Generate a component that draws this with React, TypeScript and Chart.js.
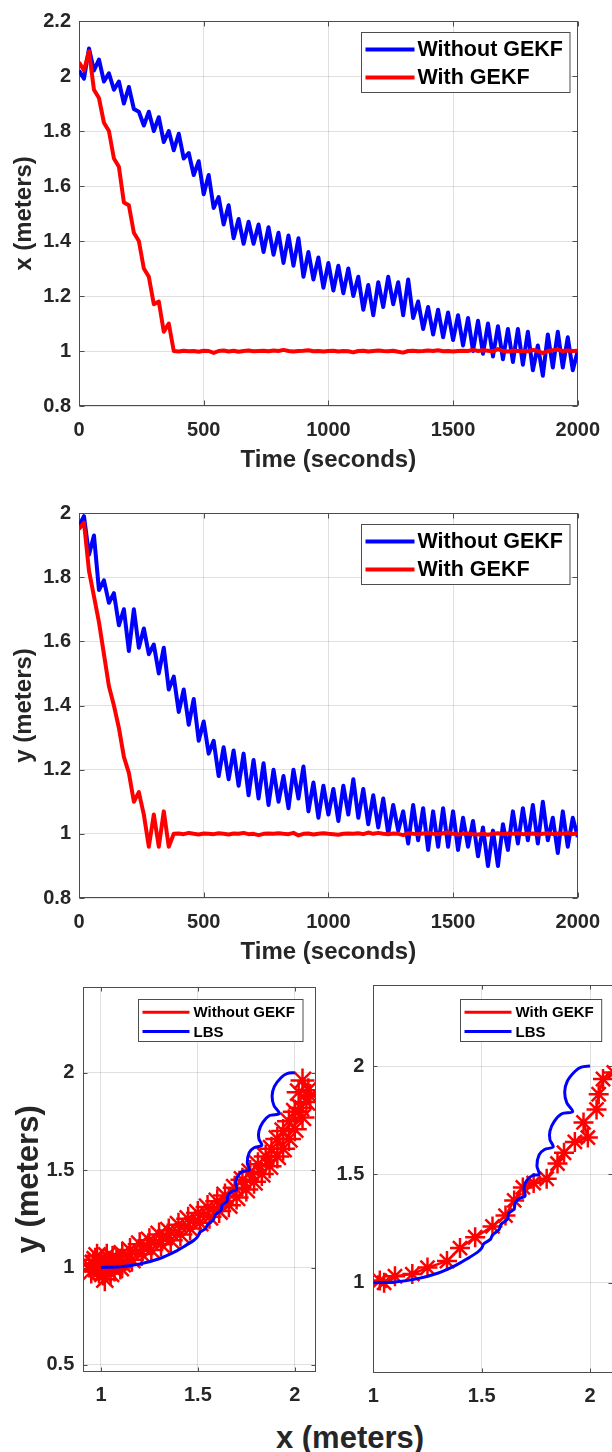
import React, { useEffect, useRef } from "react";
import { Chart, registerables } from "chart.js";

Chart.register(...registerables);

const FONT = "'Liberation Sans', Arial, Helvetica, sans-serif";
const TEXT = "#262626";
const AXIS = "#4d4d4d";
const GRID = "rgba(38,38,38,0.14)";
const BLUE = "#0000ff";
const RED = "#ff0000";

// ---------- time series (seconds) ----------
const timeSec = [
  0, 20, 40, 60, 80, 100, 120, 140, 160, 180,
  200, 220, 240, 260, 280, 300, 320, 340, 360, 380,
  400, 420, 440, 460, 480, 500, 520, 540, 560, 580,
  600, 620, 640, 660, 680, 700, 720, 740, 760, 780,
  800, 820, 840, 860, 880, 900, 920, 940, 960, 980,
  1000, 1020, 1040, 1060, 1080, 1100, 1120, 1140, 1160, 1180,
  1200, 1220, 1240, 1260, 1280, 1300, 1320, 1340, 1360, 1380,
  1400, 1420, 1440, 1460, 1480, 1500, 1520, 1540, 1560, 1580,
  1600, 1620, 1640, 1660, 1680, 1700, 1720, 1740, 1760, 1780,
  1800, 1820, 1840, 1860, 1880, 1900, 1920, 1940, 1960, 1980,
  2000,
];

// x (meters) without GEKF
const xWithout = [
  2.02, 1.99, 2.10, 2.02, 2.06, 1.98, 2.01, 1.95, 1.98, 1.90,
  1.96, 1.88, 1.87, 1.82, 1.87, 1.80, 1.85, 1.76, 1.80, 1.73,
  1.79, 1.70, 1.72, 1.64, 1.69, 1.57, 1.64, 1.52, 1.56, 1.46,
  1.53, 1.41, 1.48, 1.39, 1.47, 1.39, 1.46, 1.36, 1.45, 1.35,
  1.43, 1.32, 1.42, 1.31, 1.41, 1.27, 1.36, 1.26, 1.34, 1.23,
  1.32, 1.22, 1.31, 1.21, 1.30, 1.20, 1.27, 1.15, 1.24, 1.13,
  1.25, 1.16, 1.27, 1.17, 1.25, 1.13, 1.26, 1.12, 1.18, 1.08,
  1.16, 1.06, 1.15, 1.05, 1.14, 1.04, 1.13, 1.02, 1.12, 1.00,
  1.11, 0.99, 1.10, 0.98, 1.09, 0.97, 1.08, 0.96, 1.08, 0.95,
  1.07, 0.93, 1.02, 0.91, 1.06, 0.94, 1.07, 0.94, 1.05, 0.93,
  1.00,
];

// x (meters) with GEKF
const xWith = [
  2.05, 2.02, 2.09, 1.95, 1.92, 1.83, 1.80, 1.70, 1.67, 1.54,
  1.53, 1.43, 1.40, 1.30, 1.27, 1.17, 1.18, 1.07, 1.10, 1.00,
  0.998, 1.001, 0.999, 1.000, 0.997, 1.001, 1.000, 0.993, 1.000, 1.002,
  0.998, 1.001, 0.997, 1.000, 1.002, 0.999, 1.000, 1.001, 0.999, 1.002,
  1.000, 1.004, 1.000, 0.998, 1.000, 1.001, 1.003, 0.999, 1.000, 0.998,
  1.000, 1.001, 0.998, 1.000, 0.999, 0.995, 1.000, 1.001, 0.998, 1.000,
  1.002, 1.000, 0.999, 1.001, 0.997, 0.994, 1.000, 1.001, 0.999, 1.000,
  1.002, 1.000, 1.003, 0.999, 1.000, 0.998, 1.000, 1.001, 1.000, 1.004,
  1.000, 1.003, 1.001, 0.998, 1.007, 1.000, 0.998, 1.002, 1.000, 1.001,
  0.999, 1.004, 1.000, 0.992, 1.000, 1.003, 1.005, 1.000, 1.002, 1.000,
  1.001,
];

// y (meters) without GEKF
const yWithout = [
  1.96, 1.99, 1.87, 1.93, 1.76, 1.79, 1.72, 1.75, 1.65, 1.70,
  1.57, 1.70, 1.58, 1.64, 1.56, 1.59, 1.50, 1.58, 1.45, 1.49,
  1.38, 1.45, 1.34, 1.42, 1.29, 1.35, 1.25, 1.29, 1.18, 1.27,
  1.17, 1.26, 1.15, 1.25, 1.12, 1.23, 1.11, 1.22, 1.09, 1.20,
  1.10, 1.18, 1.08, 1.20, 1.11, 1.21, 1.07, 1.16, 1.05, 1.15,
  1.06, 1.14, 1.04, 1.15, 1.06, 1.17, 1.05, 1.14, 1.03, 1.12,
  1.02, 1.11, 1.00, 1.09, 1.01, 1.07, 0.97, 1.09, 0.98, 1.08,
  0.95, 1.07, 0.96, 1.08, 0.96, 1.07, 0.95, 1.05, 0.96, 1.04,
  0.93, 1.02, 0.90, 1.01, 0.90, 1.03, 0.95, 1.07, 0.97, 1.08,
  0.98, 1.09, 0.97, 1.10, 0.98, 1.05, 0.94, 1.07, 0.96, 1.05,
  0.99,
];

// y (meters) with GEKF
const yWith = [
  1.95, 1.97, 1.82, 1.74, 1.66, 1.56, 1.46, 1.40, 1.33, 1.24,
  1.19, 1.10, 1.13, 1.06, 0.96, 1.06, 0.96, 1.07, 0.96, 1.00,
  1.001, 0.999, 1.003, 1.000, 0.998, 1.001, 1.000, 0.999, 1.002, 1.000,
  0.998, 1.001, 1.000, 1.003, 0.999, 1.000, 0.996, 1.000, 1.001, 1.000,
  1.002, 1.000, 0.999, 1.003, 0.995, 1.000, 1.001, 0.998, 1.000, 1.002,
  1.000, 0.999, 0.997, 1.000, 1.001, 1.000, 1.002, 0.999, 1.004, 1.000,
  1.003, 1.000, 0.999, 1.001, 1.000, 0.996, 1.002, 1.000, 0.999, 1.001,
  1.003, 1.000, 0.999, 1.002, 1.005, 1.000, 0.998, 1.000, 1.001, 0.999,
  0.998, 1.000, 0.997, 1.000, 1.002, 0.999, 1.001, 1.000, 1.002, 0.999,
  1.000, 1.001, 0.998, 1.000, 1.002, 0.999, 1.001, 1.000, 1.003, 0.999,
  1.002,
];

// ---------- trajectories (meters) ----------
const lbsX = [
  1.00, 1.10, 1.20, 1.30, 1.38, 1.44, 1.48, 1.50, 1.51, 1.54,
  1.55, 1.58, 1.59, 1.62, 1.625, 1.65, 1.655, 1.675, 1.70,
  1.695, 1.71, 1.735, 1.765,
  1.755, 1.765, 1.79, 1.83,
  1.815, 1.815, 1.835, 1.87, 1.92,
  1.893, 1.883, 1.895, 1.93, 1.96, 2.00,
];
const lbsY = [
  1.00, 1.004, 1.018, 1.045, 1.08, 1.115, 1.14, 1.16, 1.18, 1.20,
  1.22, 1.245, 1.27, 1.295, 1.32, 1.34, 1.37, 1.39, 1.40,
  1.44, 1.475, 1.495, 1.50,
  1.54, 1.59, 1.615, 1.627,
  1.66, 1.70, 1.745, 1.78, 1.79,
  1.83, 1.88, 1.93, 1.975, 1.995, 2.00,
];

const trajWithoutX = [
  2.04, 2.07, 2.02, 2.06, 2.03, 2.08, 2.00, 2.04,
  1.97, 2.00, 1.94, 1.97, 1.91, 1.94, 1.88, 1.91, 1.85, 1.87,
  1.81, 1.83, 1.77, 1.79, 1.73, 1.75, 1.69, 1.70, 1.64, 1.66,
  1.60, 1.61, 1.55, 1.56, 1.50, 1.51, 1.45, 1.46, 1.40, 1.41,
  1.35, 1.36, 1.30, 1.31, 1.25, 1.26, 1.20, 1.21, 1.15, 1.16,
  1.11, 1.11,
  1.08, 1.03, 0.97, 0.94, 0.99, 1.05, 1.10, 1.06, 1.00, 0.95,
  1.02, 1.07, 0.98, 1.04, 0.96, 1.01, 1.09, 1.03,
];
const trajWithoutY = [
  1.96, 1.91, 1.90, 1.85, 1.82, 1.88, 1.80, 1.77,
  1.75, 1.71, 1.70, 1.66, 1.66, 1.61, 1.61, 1.57, 1.57, 1.52,
  1.53, 1.48, 1.49, 1.44, 1.45, 1.40, 1.41, 1.36, 1.37, 1.32,
  1.34, 1.29, 1.31, 1.26, 1.28, 1.23, 1.25, 1.20, 1.22, 1.17,
  1.19, 1.14, 1.17, 1.12, 1.14, 1.09, 1.12, 1.07, 1.09, 1.04,
  1.07, 1.02,
  1.04, 1.06, 1.04, 1.01, 0.98, 0.97, 1.00, 1.05, 1.02, 0.98,
  0.94, 0.99, 1.06, 1.01, 1.02, 0.97, 1.03, 0.99,
];

const trajWithX = [
  2.11, 2.06, 2.04, 2.03, 1.97, 1.99, 1.93, 1.88, 1.85, 1.80,
  1.74, 1.69, 1.65, 1.61, 1.55, 1.47, 1.40, 1.34, 1.25, 1.18,
  1.10, 1.05, 1.03,
];
const trajWithY = [
  1.97, 1.94, 1.87, 1.80, 1.74, 1.67, 1.65, 1.60, 1.55, 1.48,
  1.46, 1.44, 1.38, 1.31, 1.26, 1.21, 1.16, 1.10, 1.07, 1.04,
  1.03, 1.00, 1.01,
];

// ---------- ticks ----------
const timeTicks = [0, 500, 1000, 1500, 2000];
const xPosTicks = [0.8, 1, 1.2, 1.4, 1.6, 1.8, 2, 2.2];
const yPosTicks = [0.8, 1, 1.2, 1.4, 1.6, 1.8, 2];
const trajXTicks = [1, 1.5, 2];
const trajYTicksLeft = [0.5, 1, 1.5, 2];
const trajYTicksRight = [1, 1.5, 2];

const fmt = (v: any) => String(Math.round(Number(v) * 100) / 100);

const framePlugin = {
  id: "matlabFrame",
  beforeDatasetsDraw(chart: any, _a: any, opts: any) {
    const { ctx, chartArea: ca, scales } = chart;
    const tl = opts.tickLen || 5;
    ctx.save();
    ctx.strokeStyle = AXIS;
    ctx.lineWidth = 1;
    const L = Math.round(ca.left) + 0.5;
    const R = Math.round(ca.right) - 0.5;
    const T = Math.round(ca.top) + 0.5;
    const B = Math.round(ca.bottom) - 0.5;
    ctx.beginPath();
    scales.x.ticks.forEach((t: any) => {
      const p = Math.round(scales.x.getPixelForValue(t.value)) + 0.5;
      ctx.moveTo(p, B);
      ctx.lineTo(p, B - tl);
      ctx.moveTo(p, T);
      ctx.lineTo(p, T + tl);
    });
    scales.y.ticks.forEach((t: any) => {
      const p = Math.round(scales.y.getPixelForValue(t.value)) + 0.5;
      ctx.moveTo(L, p);
      ctx.lineTo(L + tl, p);
      ctx.moveTo(R, p);
      ctx.lineTo(R - tl, p);
    });
    ctx.stroke();
    ctx.strokeRect(L, T, R - L, B - T);
    ctx.restore();
  },
  afterDatasetsDraw(chart: any, _a: any, o: any) {
    if (!o.legend) return;
    const lg = o.legend;
    const { ctx, chartArea: ca } = chart;
    const ds = chart.data.datasets;
    ctx.save();
    ctx.font = `bold ${lg.fontSize}px ${FONT}`;
    let maxW = 0;
    ds.forEach((d: any) => {
      maxW = Math.max(maxW, ctx.measureText(d.label).width);
    });
    const w = lg.padLeft + lg.lineLen + lg.gap + maxW + lg.padRight;
    const h = lg.padTop + lg.rowH * (ds.length - 1) + lg.padBottom;
    const x0 = Math.round(ca.right - lg.right - w) + 0.5;
    const y0 = Math.round(ca.top + lg.top) + 0.5;
    ctx.fillStyle = "#ffffff";
    ctx.fillRect(x0, y0, w, h);
    ctx.strokeStyle = AXIS;
    ctx.lineWidth = 1;
    ctx.strokeRect(x0, y0, w, h);
    ds.forEach((d: any, i: number) => {
      const yy = y0 + lg.padTop + i * lg.rowH;
      ctx.strokeStyle = d.borderColor;
      ctx.lineWidth = lg.lineWidth;
      ctx.beginPath();
      ctx.moveTo(x0 + lg.padLeft, yy);
      ctx.lineTo(x0 + lg.padLeft + lg.lineLen, yy);
      ctx.stroke();
      ctx.fillStyle = "#000000";
      ctx.textBaseline = "middle";
      ctx.textAlign = "left";
      ctx.fillText(d.label, x0 + lg.padLeft + lg.lineLen + lg.gap, yy + 1);
    });
    ctx.restore();
  },
};

function tickFont(size: number) {
  return { family: FONT, size, weight: "bold" as const };
}

function timeConfig(without: number[], withF: number[], yMin: number, yMax: number, yTicks: number[], yTitle: string, g: any) {
  return {
    type: "scatter" as const,
    data: {
      datasets: [
        {
          label: "Without GEKF",
          data: timeSec.map((t, i) => ({ x: t, y: without[i] })),
          borderColor: BLUE,
          backgroundColor: BLUE,
          borderWidth: 4,
          borderJoinStyle: "round" as const,
          pointRadius: 0,
          showLine: true,
          order: 1,
        },
        {
          label: "With GEKF",
          data: timeSec.map((t, i) => ({ x: t, y: withF[i] })),
          borderColor: RED,
          backgroundColor: RED,
          borderWidth: 4,
          borderJoinStyle: "round" as const,
          pointRadius: 0,
          showLine: true,
          order: 0,
        },
      ],
    },
    options: {
      responsive: false,
      animation: false as const,
      events: [],
      layout: { padding: { top: g.padTop, right: g.padRight, left: 0, bottom: 0 } },
      plugins: {
        legend: { display: false },
        tooltip: { enabled: false },
        matlabFrame: {
          tickLen: 5,
          legend: { fontSize: 21.5, right: 8, top: 11, padTop: 17, rowH: 28, padBottom: 15, padLeft: 4, lineLen: 49, gap: 3, padRight: 7, lineWidth: 4 },
        },
      },
      scales: {
        x: {
          type: "linear" as const,
          min: 0,
          max: 2000,
          afterBuildTicks: (s: any) => { s.ticks = timeTicks.map((v) => ({ value: v })); },
          afterFit: (s: any) => { s.height = g.xAxisH; },
          grid: { color: GRID, drawTicks: false },
          border: { display: false },
          ticks: { padding: 12, font: tickFont(20), color: TEXT, maxRotation: 0, autoSkip: false, callback: fmt },
          title: { display: true, text: "Time (seconds)", font: tickFont(24), color: TEXT, padding: { top: 0, bottom: g.xTitlePad } },
        },
        y: {
          type: "linear" as const,
          min: yMin,
          max: yMax,
          afterBuildTicks: (s: any) => { s.ticks = yTicks.map((v) => ({ value: v })); },
          afterFit: (s: any) => { s.width = g.yAxisW; },
          grid: { color: GRID, drawTicks: false },
          border: { display: false },
          ticks: { padding: 8, font: tickFont(20), color: TEXT, autoSkip: false, callback: fmt },
          title: { display: true, text: yTitle, font: tickFont(24), color: TEXT, padding: { top: 9.6, bottom: 0 } },
        },
      },
    },
    plugins: [framePlugin],
  };
}

function trajConfig(label: string, rx: number[], ry: number[], starR: number, xr: number[], yr: number[], yTicks: number[], showYTitle: boolean, g: any) {
  return {
    type: "scatter" as const,
    data: {
      datasets: [
        {
          label,
          data: rx.map((x, i) => ({ x, y: ry[i] })),
          borderColor: RED,
          backgroundColor: RED,
          borderWidth: 2.5,
          borderJoinStyle: "round" as const,
          pointStyle: "star" as const,
          pointRadius: starR,
          pointBorderColor: RED,
          pointBorderWidth: 2.5,
          showLine: true,
          clip: 0,
          order: 1,
        },
        {
          label: "LBS",
          data: lbsX.map((x, i) => ({ x, y: lbsY[i] })),
          borderColor: BLUE,
          backgroundColor: BLUE,
          borderWidth: 3,
          pointRadius: 0,
          tension: 0.3,
          showLine: true,
          clip: 0,
          order: 0,
        },
      ],
    },
    options: {
      responsive: false,
      animation: false as const,
      events: [],
      layout: { padding: { top: g.padTop, right: g.padRight, left: 0, bottom: 0 } },
      plugins: {
        legend: { display: false },
        tooltip: { enabled: false },
        matlabFrame: {
          tickLen: 4,
          legend: { fontSize: 15, right: g.legRight, top: g.legTop, padTop: 12.7, rowH: 19.3, padBottom: 10, padLeft: 4, lineLen: 47, gap: 4, padRight: 8, lineWidth: 3 },
        },
      },
      scales: {
        x: {
          type: "linear" as const,
          min: xr[0],
          max: xr[1],
          afterBuildTicks: (s: any) => { s.ticks = trajXTicks.map((v) => ({ value: v })); },
          afterFit: (s: any) => { s.height = g.xAxisH; },
          grid: { color: GRID, drawTicks: false },
          border: { display: false },
          ticks: { padding: 11.5, font: tickFont(20), color: TEXT, maxRotation: 0, autoSkip: false, callback: fmt },
        },
        y: {
          type: "linear" as const,
          min: yr[0],
          max: yr[1],
          afterBuildTicks: (s: any) => { s.ticks = yTicks.map((v) => ({ value: v })); },
          afterFit: (s: any) => { s.width = g.yAxisW; },
          grid: { color: GRID, drawTicks: false },
          border: { display: false },
          ticks: { padding: 9, font: tickFont(20), color: TEXT, autoSkip: false, callback: fmt },
          title: { display: showYTitle, text: "y (meters)", font: tickFont(31), color: TEXT, padding: { top: 10.4, bottom: 0 } },
        },
      },
    },
    plugins: [framePlugin],
  };
}

const canvasStyle = (left: number, top: number, w: number, h: number): React.CSSProperties => ({
  position: "absolute",
  left,
  top,
  width: w,
  height: h,
});

export default function App() {
  const refA = useRef<HTMLCanvasElement>(null);
  const refB = useRef<HTMLCanvasElement>(null);
  const refC = useRef<HTMLCanvasElement>(null);
  const refD = useRef<HTMLCanvasElement>(null);

  useEffect(() => {
    const charts: Chart[] = [];
    charts.push(
      new Chart(
        refA.current as HTMLCanvasElement,
        timeConfig(xWithout, xWith, 0.8, 2.2, xPosTicks, "x (meters)", { padTop: 21, padRight: 27, yAxisW: 79, xAxisH: 74, xTitlePad: 5.6 }) as any
      )
    );
    charts.push(
      new Chart(
        refB.current as HTMLCanvasElement,
        timeConfig(yWithout, yWith, 0.8, 2.0, yPosTicks, "y (meters)", { padTop: 23, padRight: 27, yAxisW: 79, xAxisH: 72, xTitlePad: 3.6 }) as any
      )
    );
    charts.push(
      new Chart(
        refC.current as HTMLCanvasElement,
        trajConfig("Without GEKF", trajWithoutX, trajWithoutY, 12, [0.909, 2.107], [0.464, 2.441], trajYTicksLeft, true, {
          padTop: 26.7, padRight: 14.3, yAxisW: 83.3, xAxisH: 38, legRight: 12.7, legTop: 12.3,
        }) as any
      )
    );
    charts.push(
      new Chart(
        refD.current as HTMLCanvasElement,
        trajConfig("With GEKF", trajWithX, trajWithY, 10, [1.0, 2.106], [0.585, 2.374], trajYTicksRight, false, {
          padTop: 25, padRight: 27, yAxisW: 53.3, xAxisH: 37.3, legRight: 12.3, legTop: 14.3,
        }) as any
      )
    );
    return () => charts.forEach((c) => c.destroy());
  }, []);

  return (
    <div style={{ position: "absolute", left: 0, top: 0, width: 612, height: 1452, overflow: "hidden", background: "#ffffff" }}>
      <canvas ref={refA} width={612} height={480} style={canvasStyle(0, 0, 612, 480)} />
      <canvas ref={refB} width={612} height={480} style={canvasStyle(0, 490, 612, 480)} />
      <canvas ref={refC} width={330} height={450} style={canvasStyle(0, 960, 330, 450)} />
      <canvas ref={refD} width={320} height={450} style={canvasStyle(320, 960, 320, 450)} />
      <div
        style={{
          position: "absolute",
          left: 350,
          top: 1437,
          transform: "translate(-50%, -50%)",
          font: `bold 31px ${FONT}`,
          color: TEXT,
          whiteSpace: "nowrap",
          lineHeight: 1,
        }}
      >
        x (meters)
      </div>
    </div>
  );
}
